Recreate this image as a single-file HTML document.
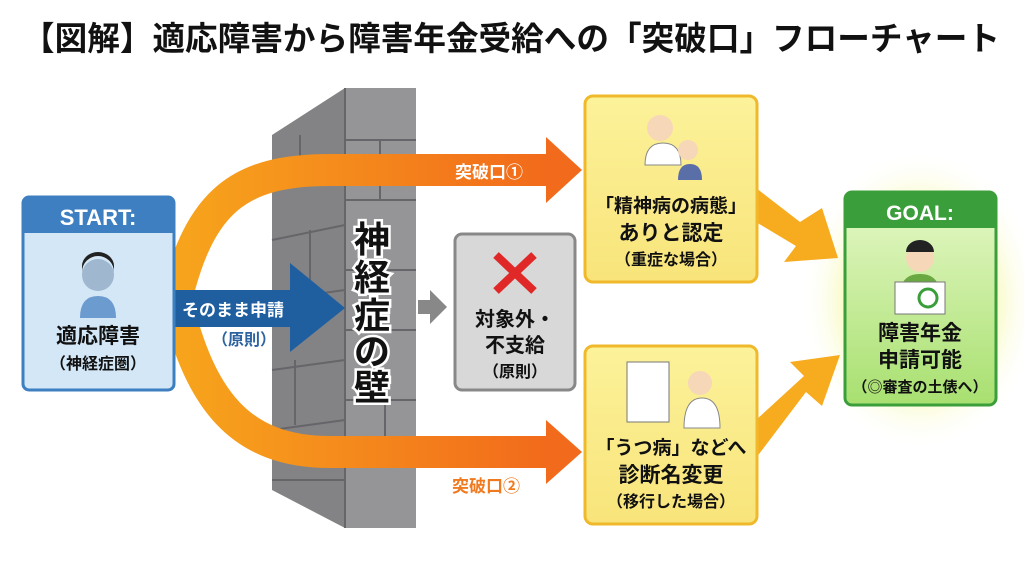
<!DOCTYPE html>
<html><head><meta charset="utf-8"><style>
html,body{margin:0;padding:0;background:#fff;}
svg{display:block;}
text{font-family:"Liberation Sans","Noto Sans CJK JP",sans-serif;font-weight:bold;}
</style></head><body>
<svg width="1024" height="572" viewBox="0 0 1024 572" xmlns="http://www.w3.org/2000/svg">
<defs>
<linearGradient id="og" x1="0" x2="1" y1="0" y2="0"><stop offset="0" stop-color="#f7a51c"/><stop offset="1" stop-color="#f26a1b"/></linearGradient>
<radialGradient id="glow" cx="0.5" cy="0.5" r="0.5"><stop offset="0.5" stop-color="#f4f79a"/><stop offset="1" stop-color="#ffffff" stop-opacity="0"/></radialGradient>
<linearGradient id="gg" x1="0" x2="0" y1="0" y2="1"><stop offset="0" stop-color="#e6f8c8"/><stop offset="1" stop-color="#a8e070"/></linearGradient>
<linearGradient id="yb" x1="0" x2="0" y1="0" y2="1"><stop offset="0" stop-color="#fcf29a"/><stop offset="1" stop-color="#f8e47a"/></linearGradient>
</defs>
<text x="22" y="50" font-size="33" textLength="978" lengthAdjust="spacingAndGlyphs" fill="#111">【図解】適応障害から障害年金受給への「突破口」フローチャート</text>

<!-- wall -->
<polygon points="272,135 345,88 416,88 416,528 345,528 272,490" fill="#838385"/>
<polygon points="345,88 416,88 416,528 345,528" fill="#959597"/>
<g stroke="#66666a" stroke-width="2" fill="none">
<path d="M345,88 V528"/>
<path d="M272,180 L345,160 M272,240 L345,225 M272,300 L345,290 M272,370 L345,360 M272,430 L345,420 M272,480 L345,480"/>
<path d="M345,140 H416 M345,200 H416 M345,270 H416 M345,330 H416 M345,400 H416 M345,460 H416"/>
<path d="M300,135 V175 M310,230 V290 M295,360 V425 M380,140 V200 M370,270 V330 M385,400 V460"/>
</g>

<!-- glow -->
<ellipse cx="920" cy="300" rx="120" ry="150" fill="url(#glow)"/>

<!-- orange arcs -->
<path d="M176,300 C200,200 240,170 330,170 L548,170" stroke="url(#og)" stroke-width="32" fill="none"/>
<polygon points="546,137 582,170 546,203" fill="#f26a1b"/>
<path d="M176,300 C200,400 240,452 330,452 L548,452" stroke="url(#og)" stroke-width="32" fill="none"/>
<polygon points="546,420 582,452 546,484" fill="#f26a1b"/>
<text x="455" y="178" font-size="17" fill="#fff">突破口①</text>
<text x="452" y="492" font-size="17" fill="#f07a20">突破口②</text>

<!-- blue arrow -->
<polygon points="174,290 290,290 290,263 345,308 290,352 290,327 174,327" fill="#1f5fa0"/>
<text x="182" y="316" font-size="17" fill="#fff">そのまま申請</text>
<text x="212" y="345" font-size="16" fill="#2d63a0" font-weight="normal">（原則）</text>

<!-- wall text -->
<g font-size="36" fill="#111" stroke="#fff" stroke-width="5" paint-order="stroke" text-anchor="middle">
<text x="372" y="252">神</text><text x="372" y="290">経</text><text x="372" y="328">症</text><text x="372" y="364">の</text><text x="372" y="400">壁</text>
</g>
<polygon points="418,300 430,300 430,290 447,307 430,324 430,314 418,314" fill="#888"/>

<!-- start box -->
<rect x="23" y="197" width="151" height="193" rx="6" fill="#d4e7f7" stroke="#3d7fc0" stroke-width="3"/>
<path d="M23,233 V203 a6,6 0 0 1 6,-6 H168 a6,6 0 0 1 6,6 V233 Z" fill="#3d7fc0"/>
<text x="98" y="225" font-size="22" fill="#fff" text-anchor="middle">START:</text>
<circle cx="98" cy="275" r="16" fill="#9fb7cf"/><path d="M82,272 a16,16 0 0 1 32,0 l0,-6 a16,14 0 0 0 -32,0Z" fill="#222"/>
<path d="M80,318 q0,-22 18,-22 q18,0 18,22Z" fill="#6c9bd0"/>
<text x="98" y="343" font-size="21" fill="#111" text-anchor="middle">適応障害</text>
<text x="98" y="369" font-size="16" fill="#111" text-anchor="middle">（神経症圏）</text>

<!-- gray box -->
<rect x="455" y="234" width="120" height="156" rx="7" fill="#d8d8d8" stroke="#888" stroke-width="3"/>
<path d="M496,255 L534,291 M534,255 L496,291" stroke="#e02828" stroke-width="8"/>
<text x="515" y="326" font-size="20" fill="#111" text-anchor="middle">対象外・</text>
<text x="515" y="352" font-size="20" fill="#111" text-anchor="middle">不支給</text>
<text x="515" y="377" font-size="16" fill="#111" text-anchor="middle">（原則）</text>

<!-- yellow arrows to goal -->
<polygon points="756,188 800,222 822,208 838,258 784,262 796,246 756,222" fill="#f7ac1f"/>
<polygon points="756,420 756,458 806,392 822,406 840,355 790,362 804,376" fill="#f7ac1f"/>

<!-- yellow box 1 -->
<rect x="585" y="96" width="172" height="186" rx="8" fill="url(#yb)" stroke="#f0b92c" stroke-width="3"/>
<circle cx="660" cy="128" r="13" fill="#f6d7b8"/><path d="M645,165 q0,-22 18,-22 q18,0 18,22Z" fill="#fff" stroke="#888"/>
<circle cx="688" cy="150" r="10" fill="#f6d7b8"/><path d="M678,180 q0,-16 12,-16 q12,0 12,16Z" fill="#5a6ea8"/>
<text x="671" y="212" font-size="19" fill="#111" text-anchor="middle">「精神病の病態」</text>
<text x="671" y="240" font-size="21" fill="#111" text-anchor="middle">ありと認定</text>
<text x="671" y="265" font-size="16" fill="#111" text-anchor="middle">（重症な場合）</text>

<!-- yellow box 2 -->
<rect x="585" y="346" width="172" height="178" rx="8" fill="url(#yb)" stroke="#f0b92c" stroke-width="3"/>
<rect x="627" y="362" width="42" height="60" fill="#fff" stroke="#777"/>
<circle cx="700" cy="383" r="12" fill="#f6d7b8"/><path d="M684,428 q0,-30 18,-30 q18,0 18,30Z" fill="#fff" stroke="#888"/>
<text x="671" y="454" font-size="19" fill="#111" text-anchor="middle">「うつ病」などへ</text>
<text x="671" y="482" font-size="21" fill="#111" text-anchor="middle">診断名変更</text>
<text x="671" y="507" font-size="16" fill="#111" text-anchor="middle">（移行した場合）</text>

<!-- goal box -->
<rect x="845" y="192" width="151" height="213" rx="7" fill="url(#gg)" stroke="#3a9e3a" stroke-width="3"/>
<path d="M845,228 V199 a7,7 0 0 1 7,-7 H989 a7,7 0 0 1 7,7 V228 Z" fill="#3a9e3a"/>
<text x="920" y="220" font-size="21" fill="#fff" text-anchor="middle">GOAL:</text>
<circle cx="920" cy="258" r="14" fill="#f6d7b8"/><path d="M906,252 a14,12 0 0 1 28,0Z" fill="#222"/>
<path d="M900,296 q0,-22 20,-22 q20,0 20,22Z" fill="#6aa842"/>
<rect x="895" y="282" width="50" height="32" fill="#fff" stroke="#777"/>
<circle cx="928" cy="298" r="9" fill="none" stroke="#3a9e3a" stroke-width="3"/>
<text x="920" y="340" font-size="21" fill="#111" text-anchor="middle">障害年金</text>
<text x="920" y="367" font-size="21" fill="#111" text-anchor="middle">申請可能</text>
<text x="920" y="392" font-size="15" fill="#111" text-anchor="middle">（◎審査の土俵へ）</text>
</svg>
</body></html>
